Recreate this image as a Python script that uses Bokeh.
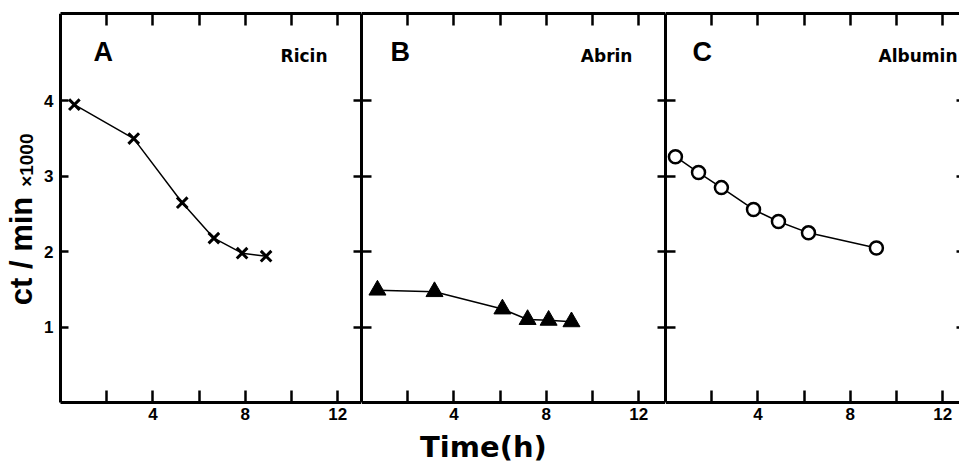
from bokeh.plotting import figure
from bokeh.models import Range1d, LinearAxis, FixedTicker, Label, CustomLabelingPolicy
from bokeh.layouts import row
from bokeh.embed import file_html
from bokeh.resources import INLINE

# ---- data ----
ricin_t = [0.6, 3.17, 5.27, 6.64, 7.86, 8.90]
ricin_ct = [3.95, 3.50, 2.65, 2.18, 1.98, 1.94]

abrin_t = [0.69, 3.16, 6.10, 7.19, 8.10, 9.09]
abrin_ct = [1.49, 1.47, 1.24, 1.10, 1.09, 1.07]

albumin_t = [0.43, 1.43, 2.42, 3.81, 4.89, 6.19, 9.13]
albumin_ct = [3.26, 3.05, 2.85, 2.56, 2.40, 2.25, 2.05]

x_ticks = [2, 4, 6, 8, 10, 12]
x_tick_labels = {2: "", 4: "4", 6: "", 8: "8", 10: "", 12: "12"}
y_ticks = [1, 2, 3, 4]
y_tick_labels = {1: "1", 2: "2", 3: "3", 4: "4"}

panel_letters = ["A", "B", "C"]
panel_names = ["Ricin", "Abrin", "Albumin"]
y_title = "ct / min"
y_title_factor = "\u00d71000"
x_title = "Time(h)"

FONT = "Liberation Sans"
FONT2 = "DejaVu Sans"
PX_X = 23.1          # pixels per hour
PX_Y = 75.4          # pixels per 1000 ct/min
FRAME_H = 451        # frame reaches the bottom of the page
YMIN = -62 / PX_Y    # room below the x axis for tick labels and title
YMAX = 389 / PX_Y

no_labels = CustomLabelingPolicy(code="return new Set()")


def make_axis(ticks, tick_in, line=True, labels=None, standoff=6, bounds=None, fixed=None):
    ax = LinearAxis(ticker=FixedTicker(ticks=ticks, minor_ticks=[]),
                    major_tick_in=tick_in, major_tick_out=0,
                    minor_tick_line_color=None,
                    major_tick_line_width=2.5, major_tick_line_color="black",
                    axis_line_width=3,
                    axis_line_color="black" if line else None)
    if bounds is not None:
        ax.bounds = bounds
    if fixed is not None:
        ax.fixed_location = fixed
    if labels is None:
        ax.major_label_policy = no_labels
        ax.major_label_text_font_size = "0px"
        ax.major_label_standoff = 0
    else:
        ax.major_label_overrides = labels
        ax.major_label_text_font = FONT
        ax.major_label_text_font_style = "bold"
        ax.major_label_text_font_size = "17px"
        ax.major_label_standoff = standoff
        ax.major_label_text_color = "black"
    return ax


def make_panel(frame_w, x0_px):
    xmin = -x0_px / PX_X
    xmax = (frame_w - x0_px) / PX_X
    p = figure(frame_width=frame_w, frame_height=FRAME_H,
               x_range=Range1d(xmin, xmax), y_range=Range1d(YMIN, YMAX),
               x_axis_type=None, y_axis_type=None, title=None,
               output_backend="svg", toolbar_location=None,
               min_border_left=0, min_border_right=0,
               min_border_top=13, min_border_bottom=0,
               outline_line_color=None,
               background_fill_color="white", border_fill_color="white")
    p.add_layout(make_axis(x_ticks, 12, labels=x_tick_labels, standoff=5,
                           bounds=(0, xmax), fixed=0), "below")
    p.add_layout(make_axis(x_ticks, 12, bounds=(0, xmax)), "above")
    return p


# Panel A (its frame also holds the y title and y tick labels on the left)
pa = make_panel(361, 60)
pa.add_layout(make_axis(y_ticks, 8, labels=y_tick_labels, standoff=7,
                        bounds=(0, YMAX), fixed=0), "left")
pa.add_layout(make_axis(y_ticks, 8, bounds=(0, YMAX)), "right")
pa.line(ricin_t, ricin_ct, line_color="black", line_width=1.5)
pa.scatter(ricin_t, ricin_ct, marker="x", size=15, line_width=3, line_color="black")

# Panel B
pb = make_panel(304, 0)
pb.add_layout(make_axis(y_ticks, 10, bounds=(0, YMAX)), "left")
pb.add_layout(make_axis(y_ticks, 8, bounds=(0, YMAX)), "right")
pb.line(abrin_t, abrin_ct, line_color="black", line_width=1.5)
pb.scatter(abrin_t, abrin_ct, marker="triangle", size=17, line_width=1,
           fill_color="black", line_color="black")

# Panel C (its right border lies just beyond the page)
pc = make_panel(294, 0)
pc.add_layout(make_axis(y_ticks, 10, bounds=(0, YMAX)), "left")
pc.add_layout(make_axis(y_ticks, 3, line=False), "right")
pc.line(albumin_t, albumin_ct, line_color="black", line_width=1.5)
pc.scatter(albumin_t, albumin_ct, marker="circle", size=13, line_width=2.5,
           fill_color="white", line_color="black")

# Panel letters and names
for p, letter, name, lx, nx in [(pa, panel_letters[0], panel_names[0], 1.43, 11.56),
                                (pb, panel_letters[1], panel_names[1], 1.26, 11.73),
                                (pc, panel_letters[2], panel_names[2], 1.17, 12.64)]:
    p.add_layout(Label(x=lx, y=4.645, text=letter, text_font=FONT,
                       text_font_style="bold", text_font_size="27px",
                       text_align="left", text_baseline="alphabetic",
                       text_color="black"))
    p.add_layout(Label(x=nx, y=4.60, text=name, text_font=FONT2,
                       text_font_style="bold", text_font_size="17px",
                       text_align="right", text_baseline="alphabetic",
                       text_color="black"))

# y title (left of panel A's axis)
pa.add_layout(Label(x=-1.68, y=1.29, text=y_title, angle=90, angle_units="deg",
                    text_font=FONT, text_font_style="bold", text_font_size="31px",
                    text_align="left", text_baseline="alphabetic", text_color="black"))
pa.add_layout(Label(x=-1.49, y=2.86, text=y_title_factor, angle=90, angle_units="deg",
                    text_font=FONT, text_font_style="bold", text_font_size="19px",
                    text_align="left", text_baseline="alphabetic", text_color="black"))

# x title (under panel B)
pb.add_layout(Label(x=5.28, y=-0.595, text=x_title,
                    text_font=FONT2, text_font_style="bold", text_font_size="29px",
                    text_align="center", text_baseline="alphabetic", text_color="black"))

layout = row(pa, pb, pc, spacing=0)
open("out.html", "w").write(file_html(layout, INLINE))
